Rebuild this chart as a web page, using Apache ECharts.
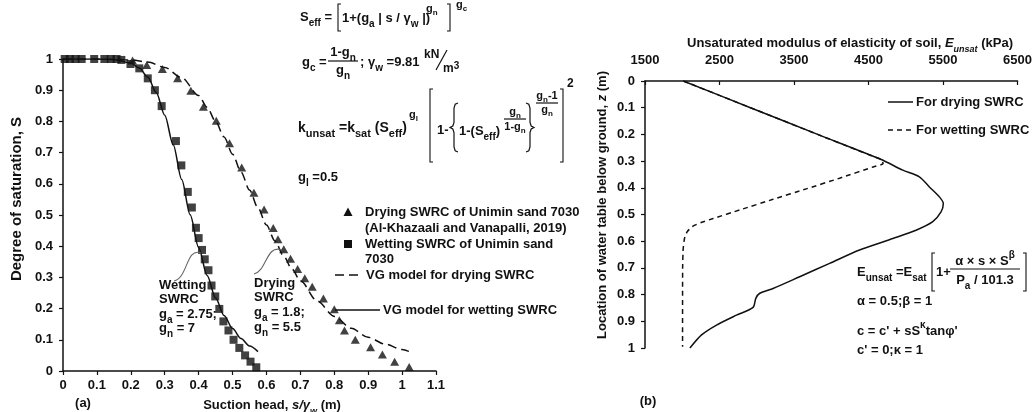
<!DOCTYPE html>
<html><head><meta charset="utf-8">
<script src="https://cdn.jsdelivr.net/npm/echarts@6/dist/echarts.min.js"></script>
<style>html,body{margin:0;padding:0;background:#fff}#c{width:1035px;height:412px}</style>
</head><body><div id="c"></div>
<script>
// ---------- Panel (a): SWRC data ----------
const dryDataX = [0.205,0.247,0.293,0.338,0.377,0.414,0.452,0.491,0.527,0.563,0.593,0.62,0.634,0.651,0.671,0.692,0.713,0.735,0.768,0.80,0.815,0.83,0.862,0.907,0.942,0.978,1.021];
const dryDataS = [0.995,0.981,0.968,0.938,0.898,0.847,0.802,0.73,0.652,0.571,0.518,0.458,0.422,0.39,0.36,0.327,0.297,0.27,0.232,0.198,0.163,0.13,0.10,0.076,0.053,0.03,0.013];
const wetDataX = [0.005,0.02,0.037,0.055,0.092,0.122,0.141,0.158,0.172,0.199,0.225,0.25,0.271,0.291,0.333,0.349,0.368,0.38,0.392,0.4,0.41,0.418,0.429,0.438,0.449,0.461,0.473,0.488,0.503,0.52,0.537,0.553,0.57];
const wetDataS = [1,1,1,1,1,1,1,1,0.997,0.984,0.97,0.938,0.9,0.849,0.737,0.659,0.574,0.524,0.459,0.426,0.388,0.358,0.323,0.274,0.239,0.199,0.159,0.13,0.10,0.074,0.05,0.03,0.012];
const dryModelX = [0,0.1,0.15,0.2,0.25,0.3,0.35,0.4,0.425,0.45,0.475,0.5,0.525,0.55,0.575,0.6,0.625,0.65,0.675,0.7,0.75,0.8,0.85,0.9,0.95,1.0,1.02];
const dryModelS = [1,1,0.999,0.997,0.99,0.973,0.94,0.883,0.845,0.80,0.75,0.695,0.638,0.58,0.523,0.468,0.417,0.37,0.327,0.289,0.224,0.175,0.137,0.108,0.086,0.069,0.063];
const wetModelX = [0,0.1,0.15,0.2,0.225,0.25,0.275,0.3,0.325,0.35,0.375,0.4,0.425,0.45,0.475,0.5,0.525,0.55,0.575];
const wetModelS = [1,1,0.998,0.987,0.971,0.942,0.893,0.82,0.725,0.614,0.501,0.396,0.306,0.234,0.178,0.136,0.104,0.08,0.062];
// ---------- Panel (b): modulus profiles ----------
const depthDry = [0,0.1,0.2,0.294,0.334,0.359,0.397,0.434,0.459,0.49,0.527,0.559,0.59,0.633,0.683,0.733,0.777,0.795,0.814,0.848,0.877,0.914,0.951,1.0];
const eDry     = [2013,2915,3817,4670,4960,5183,5317,5451,5504,5473,5362,5138,4826,4379,3978,3576,3219,3040,2987,2951,2728,2460,2259,2103];
const depthWet = [0,0.1,0.2,0.25,0.28,0.295,0.31,0.322,0.364,0.404,0.443,0.483,0.515,0.53,0.545,0.565,0.59,0.63,0.7,0.995];
const eWet     = [2013,2915,3817,4270,4540,4680,4695,4560,4112,3665,3219,2772,2415,2255,2135,2065,2030,2012,2005,2004];
const ticksE = [1500,2500,3500,4500,5500,6500];

const F = '"Liberation Sans", Arial, Helvetica, sans-serif';
const C = '#111';
const zip = (a, b) => a.map((v, i) => [v, b[i]]);

const RICH = {
  m:   {fontFamily:F, fontSize:13, fontWeight:'bold', lineHeight:22},
  M:   {fontFamily:F, fontSize:14, fontWeight:'bold', lineHeight:22},
  big: {fontFamily:F, fontSize:15, fontWeight:'bold', lineHeight:22},
  i:   {fontFamily:F, fontSize:13, fontWeight:'bold', fontStyle:'italic', lineHeight:22},
  sb:  {fontFamily:F, fontSize:10, fontWeight:'bold', lineHeight:14, verticalAlign:'bottom'},
  SB:  {fontFamily:F, fontSize:11, fontWeight:'bold', lineHeight:14, verticalAlign:'bottom'},
  isb: {fontFamily:F, fontSize:9, fontWeight:'bold', fontStyle:'italic', lineHeight:14, verticalAlign:'bottom'},
  sp:  {fontFamily:F, fontSize:10, fontWeight:'bold', lineHeight:12, verticalAlign:'top'},
  s:   {fontFamily:F, fontSize:11, fontWeight:'bold', lineHeight:16},
  s2:  {fontFamily:F, fontSize:12, fontWeight:'bold', lineHeight:16},
  ss:  {fontFamily:F, fontSize:8, fontWeight:'bold', lineHeight:10, verticalAlign:'bottom'}
};
function T(x, y, text, extra, rot) {
  const el = {type:'text', x:x, y:y, silent:true, z:100,
    style: Object.assign({text:text, fill:C, rich:RICH, verticalAlign:'middle', align:'left', font:'bold 13px ' + F}, extra || {})};
  if (rot) el.rotation = rot;
  return el;
}
function L(x1, y1, x2, y2, dash, w, col) {
  return {type:'line', silent:true, z:100, shape:{x1:x1, y1:y1, x2:x2, y2:y2},
    style:{stroke:col || C, lineWidth:w || 1.2, lineDash:dash || null}};
}
function BR(x, y1, y2, dir) {
  return {type:'polyline', silent:true, z:100,
    shape:{points:[[x + 3 * dir, y1], [x, y1], [x, y2], [x + 3 * dir, y2]]},
    style:{stroke:C, lineWidth:1.1, fill:null}};
}
function BRACE(x, y1, y2, d) {
  const ym = (y1 + y2) / 2;
  const pts = [[x + 4 * d, y1], [x + 1.2 * d, y1 + 1.2], [x, y1 + 5], [x, ym - 5], [x - 1.2 * d, ym - 1.5],
    [x - 4 * d, ym], [x - 1.2 * d, ym + 1.5], [x, ym + 5], [x, y2 - 5], [x + 1.2 * d, y2 - 1.2], [x + 4 * d, y2]];
  return {type:'polyline', silent:true, z:100, shape:{points:pts}, style:{stroke:C, lineWidth:1.2, fill:null}};
}
function CURVE(p) {
  return {type:'bezierCurve', silent:true, z:100,
    shape:{x1:p[0], y1:p[1], cpx1:p[2], cpy1:p[3], cpx2:p[4], cpy2:p[5], x2:p[6], y2:p[7]},
    style:{stroke:'#666', lineWidth:1.1, fill:null}};
}

const graphics = [
  // axis names & panel tags
  T(17, 199, '{big|Degree of saturation, S}', {align:'center'}, Math.PI / 2),
  T(272, 405, '{m|Suction head, }{i|s/γ}{isb|w}{m| (m)}', {align:'center'}),
  T(850, 43, '{m|Unsaturated modulus of elasticity of soil, }{i|E}{isb|unsat}{m| (kPa)}', {align:'center'}),
  T(602, 205, '{m|Location of water table below ground, }{i|z}{m| (m)}', {align:'center'}, Math.PI / 2),
  T(83, 403, '{m|(a)}', {align:'center'}),
  T(648, 401, '{m|(b)}', {align:'center'}),

  // Eq 1
  T(300, 17, '{m|S}{sb|eff}{m| =}'),
  BR(338, 4, 31, 1),
  T(342, 18, '{m|1+(g}{sb|a}{m| | s / γ}{sb|w}{m| |)}'),
  T(426, 9, '{s|g}{ss|n}'),
  BR(450, 4, 31, -1),
  T(456, 5, '{s|g}{ss|c}'),
  // Eq 2
  T(302, 62, '{m|g}{sb|c}{m| =}'),
  T(343, 52, '{m|1-g}{sb|n}', {align:'center'}),
  L(328, 61, 358, 61),
  T(343, 70, '{m|g}{sb|n}', {align:'center'}),
  T(360, 62, '{m|; γ}{sb|w}{m| =9.81}'),
  T(424, 55, '{s2|kN}'),
  L(436, 70, 447, 50, null, 1.2),
  T(443, 69, '{s2|m}{sp|3}'),
  // Eq 3
  T(298, 128, '{M|k}{SB|unsat}{M| =k}{SB|sat}{M| (S}{SB|eff}{M|)}'),
  T(409, 115, '{s|g}{ss|l}'),
  BR(430, 89, 162, 1),
  T(437, 130, '{m|1-}'),
  BRACE(454, 103, 152, 1),
  T(459, 131, '{m|1-(S}{sb|eff}{m|)}'),
  T(515, 112, '{s|g}{ss|n}', {align:'center'}),
  L(504, 119, 526, 119),
  T(515, 127, '{s|1-g}{ss|n}', {align:'center'}),
  BRACE(530, 103, 152, -1),
  T(547, 96, '{s|g}{ss|n}{s|-1}', {align:'center'}),
  L(536, 103, 558, 103),
  T(547, 110, '{s|g}{ss|n}', {align:'center'}),
  BR(563, 89, 162, -1),
  T(567, 84, '{s2|2}'),
  // Eq 4
  T(298, 177, '{m|g}{sb|l}{m| =0.5}'),

  // Legend (a)
  {type:'polygon', silent:true, z:100, shape:{points:[[348,207.5],[352.5,216],[343.5,216]]}, style:{fill:C}},
  T(365, 212, '{m|Drying SWRC of Unimin sand 7030}'),
  T(365, 228, '{m|(Al-Khazaali and Vanapalli, 2019)}'),
  {type:'rect', silent:true, z:100, shape:{x:344, y:240, width:8, height:8}, style:{fill:C}},
  T(365, 244, '{m|Wetting SWRC of Unimin sand}'),
  T(365, 259, '{m|7030}'),
  L(335, 275, 363, 275, [9, 5], 1.5),
  T(366, 275, '{m|VG model for drying SWRC}'),
  L(335, 310, 380, 310, null, 1.5),
  T(383, 310, '{m|VG model for wetting SWRC}'),

  // Annotations (a)
  T(159, 285, '{m|Wetting}'),
  T(159, 299, '{m|SWRC}'),
  T(159, 314, '{m|g}{sb|a}{m| = 2.75;}'),
  T(159, 328, '{m|g}{sb|n}{m| = 7}'),
  CURVE([174, 281, 188, 278, 186, 247, 201, 253]),
  T(254, 283, '{m|Drying}'),
  T(254, 297, '{m|SWRC}'),
  T(254, 312, '{m|g}{sb|a}{m| = 1.8;}'),
  T(254, 327, '{m|g}{sb|n}{m| = 5.5}'),
  CURVE([254, 274, 267, 271, 266, 244, 282, 250]),

  // Legend (b)
  L(888, 102, 913, 102, null, 1.5),
  T(916, 102, '{m|For drying SWRC}'),
  L(888, 130, 913, 130, [5, 4], 1.5),
  T(916, 130, '{m|For wetting SWRC}'),

  // Equations (b)
  T(857, 272, '{m|E}{sb|unsat}{m| =E}{sb|sat}'),
  BR(932, 253, 291, 1),
  T(936, 272, '{m|1+}'),
  T(985, 261, '{m|α × s × S}{sp|β}', {align:'center'}),
  L(950, 269, 1020, 269),
  T(985, 280, '{m|P}{sb|a}{m| / 101.3}', {align:'center'}),
  BR(1026, 253, 291, -1),
  T(857, 301, '{m|α = 0.5;β = 1}'),
  T(857, 331, "{m|c = c' + sS}{sp|κ}{m|tanφ'}"),
  T(857, 350, "{m|c' = 0;κ = 1}")
];

const axLine = {show:true, lineStyle:{color:C, width:1.5}};
const axLab = {color:C, fontFamily:F, fontSize:13, fontWeight:'bold'};

const option = {
  backgroundColor:'#fff',
  animation:false,
  textStyle:{fontFamily:F},
  grid:[
    {left:63, top:59, width:373, height:312},
    {left:645, top:81, width:373, height:267}
  ],
  xAxis:[
    {gridIndex:0, type:'value', min:0, max:1.1, interval:0.1,
     axisLine:axLine, axisTick:{show:true, length:4, lineStyle:{color:C, width:1.2}},
     axisLabel:Object.assign({margin:8}, axLab), splitLine:{show:false}},
    {gridIndex:1, type:'value', position:'top', min:1500, max:6500,
     axisLine:axLine,
     axisTick:{show:true, inside:true, length:4, customValues:ticksE, lineStyle:{color:C, width:1.2}},
     axisLabel:Object.assign({margin:14, customValues:ticksE, formatter:function (v) { return String(v); }}, axLab),
     splitLine:{show:false}}
  ],
  yAxis:[
    {gridIndex:0, type:'value', min:0, max:1, interval:0.1,
     axisLine:axLine, axisTick:{show:true, length:4, lineStyle:{color:C, width:1.2}},
     axisLabel:Object.assign({margin:10}, axLab), splitLine:{show:false}},
    {gridIndex:1, type:'value', min:0, max:1, interval:0.1, inverse:true,
     axisLine:axLine, axisTick:{show:true, length:4, lineStyle:{color:C, width:1.2}},
     axisLabel:Object.assign({margin:10}, axLab), splitLine:{show:false}}
  ],
  series:[
    {name:'VG model for drying SWRC', type:'line', xAxisIndex:0, yAxisIndex:0, data:zip(dryModelX, dryModelS),
     symbol:'none', smooth:0.3, smoothMonotone:'x', lineStyle:{color:C, width:1.5, type:[9, 5]}, z:2},
    {name:'VG model for wetting SWRC', type:'line', xAxisIndex:0, yAxisIndex:0, data:zip(wetModelX, wetModelS),
     symbol:'none', smooth:0.3, smoothMonotone:'x', lineStyle:{color:C, width:1.5}, z:2},
    {name:'Drying SWRC of Unimin sand 7030', type:'scatter', xAxisIndex:0, yAxisIndex:0, data:zip(dryDataX, dryDataS),
     symbol:'triangle', symbolSize:[9, 8], itemStyle:{color:C}, z:3},
    {name:'Wetting SWRC of Unimin sand 7030', type:'scatter', xAxisIndex:0, yAxisIndex:0, data:zip(wetDataX, wetDataS),
     symbol:'rect', symbolSize:8, itemStyle:{color:C}, z:3},
    {name:'For drying SWRC', type:'line', xAxisIndex:1, yAxisIndex:1, data:zip(eDry, depthDry),
     symbol:'none', smooth:0.25, lineStyle:{color:C, width:1.5}, z:2},
    {name:'For wetting SWRC', type:'line', xAxisIndex:1, yAxisIndex:1, data:zip(eWet, depthWet),
     symbol:'none', smooth:0.15, lineStyle:{color:C, width:1.5, type:[5, 4]}, z:2}
  ],
  graphic:graphics
};
const chart = echarts.init(document.getElementById('c'), null, {renderer:'canvas'});
chart.setOption(option);
</script></body></html>
